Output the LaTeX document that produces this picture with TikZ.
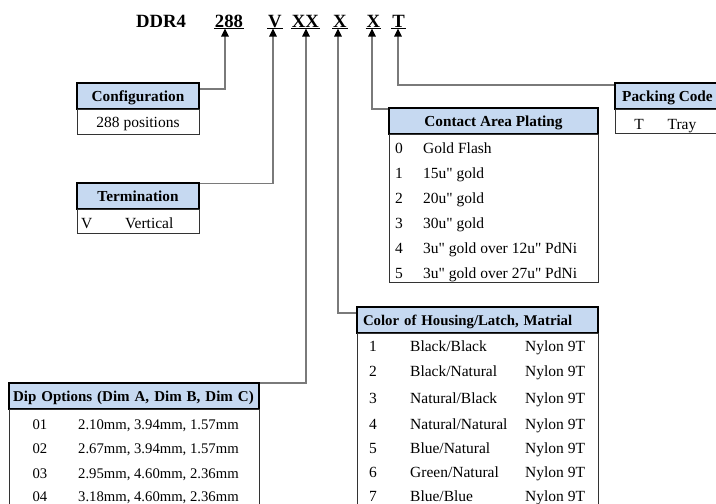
\documentclass[tikz,border=0pt]{standalone}
\usepackage{fontspec}
\setmainfont{Liberation Serif}[Ligatures=TeXOff]
\usetikzlibrary{arrows.meta}
\definecolor{hdrblue}{HTML}{C6D9F1}
\definecolor{conncol}{HTML}{7A7A7A}
\begin{document}
\begin{tikzpicture}[x=1pt,y=-1pt,
  hdr/.style={draw=black, line width=1.8pt, fill=hdrblue, outer sep=0pt, inner sep=0pt,
    minimum height=26pt, anchor=north west, text height=14pt, text depth=3pt,
    font=\fontsize{15.3}{18}\selectfont\bfseries},
  bodybox/.style={draw=black!80, line width=0.9pt},
  conn/.style={draw=conncol, line width=1.4pt},
  tipup/.style={-{Triangle[length=8pt,width=7.5pt,color=black,fill=black]}},
  lbl/.style={font=\fontsize{18.7}{20}\selectfont\bfseries, inner xsep=1pt, inner ysep=0pt,
    text height=13pt, text depth=1.5pt, anchor=base, outer sep=0pt},
  cell/.style={font=\fontsize{15.5}{18}\selectfont, inner sep=0pt, anchor=base west},
  cellc/.style={font=\fontsize{15.5}{18}\selectfont, inner sep=0pt, anchor=base},
  dcell/.style={font=\fontsize{14.7}{18}\selectfont, inner sep=0pt, anchor=base west},
  dcellc/.style={font=\fontsize{14.7}{18}\selectfont, inner sep=0pt, anchor=base},
  uline/.style={draw=black, line width=1.3pt}
]
\useasboundingbox (0,0) rectangle (716,504);
\clip (0,0) rectangle (716,504);
\fill[white] (0,0) rectangle (716,504);

% top code row
\node[lbl] (nDDR) at (161,27) {DDR4};
\node[lbl] (n288) at (229,27) {288};
\node[lbl] (nV) at (275,27) {V};
\node[lbl] (nXX) at (305.5,27) {XX};
\node[lbl] (nXa) at (340,27) {X};
\node[lbl] (nXb) at (373.5,27) {X};
\node[lbl] (nT) at (398.5,27) {T};
\foreach \n in {n288,nV,nXX,nXa,nXb,nT}{
  \draw[uline] (\n.south west) -- (\n.south east);
}

% header boxes (first pass: anchors for connectors)
\node[hdr, minimum width=122pt] (cfgh) at (77,83) {Configuration};
\node[hdr, minimum width=122pt] (termh) at (77,183) {Termination};
\node[hdr, minimum width=209pt] (conh) at (389,108) {Contact Area Plating};
\node[hdr, minimum width=105pt] (pach) at (615,83) {Packing Code};
\node[hdr, text width=229pt, inner xsep=6pt, align=left,
  font=\fontsize{14.8}{18}\selectfont\bfseries] (colh) at (357,307) {Color of Housing/Latch, Matrial};
\node[hdr, text width=242pt, inner xsep=4pt, align=left,
  font=\fontsize{15}{18}\selectfont\bfseries] (diph) at (9,383) {Dip Options (Dim A, Dim B, Dim C)};

% connectors
\draw[conn,tipup] ([yshift=-6pt]cfgh.north east) -| ([xshift=-4pt]n288.south);
\draw[conn,tipup] ([yshift=-0.5pt]termh.north east) -| ([xshift=-2pt]nV.south);
\draw[conn,tipup] (diph.north east) -| ([xshift=0.5pt]nXX.south);
\draw[conn,tipup] ([yshift=-6pt]colh.north west) -| ([xshift=-2pt]nXa.south);
\draw[conn,tipup] ([yshift=-1pt]conh.north west) -| ([xshift=-1.5pt]nXb.south);
\draw[conn,tipup] ([yshift=-2pt]pach.north west) -| ([xshift=-0.5pt]nT.south);

% redraw headers over connector ends
\node[hdr, minimum width=122pt] (cfgh2) at (77,83) {Configuration};
\node[hdr, minimum width=122pt] (termh2) at (77,183) {Termination};
\node[hdr, minimum width=209pt] (conh2) at (389,108) {Contact Area Plating};
\node[hdr, minimum width=105pt] (pach2) at (615,83) {Packing Code};
\node[hdr, text width=229pt, inner xsep=6pt, align=left,
  font=\fontsize{14.8}{18}\selectfont\bfseries] (colh2) at (357,307) {Color of Housing/Latch, Matrial};
\node[hdr, text width=242pt, inner xsep=4pt, align=left,
  font=\fontsize{15}{18}\selectfont\bfseries] (diph2) at (9,383) {Dip Options (Dim A, Dim B, Dim C)};

% body boxes
\draw[bodybox] (cfgh.south west) rectangle (199,134);
\draw[bodybox] (termh.south west) rectangle (199,233);
\draw[bodybox] (conh.south west) rectangle (598,282);
\draw[bodybox] (pach.south west) rectangle (720,133);
\draw[bodybox] (colh.south west) rectangle (598,530);
\draw[bodybox] (diph.south west) rectangle (259,530);

% Configuration body
\node[cellc] (cfg1) at (138,127) {288 positions};
% Termination body
\node[cell] (term1a) at (81,228) {V};
\node[cell] (term1b) at (125,228) {Vertical};
% Packing body
\node[cellc] (pac1a) at (639,129) {T};
\node[cellc] (pac1b) at (682,129) {Tray};

% Contact Area Plating body
\foreach \k/\t [count=\i from 0] in {0/Gold Flash,1/15u" gold,2/20u" gold,3/30u" gold,4/3u" gold over 12u" PdNi,5/3u" gold over 27u" PdNi}{
  \node[cell] (con\i a) at (395,153+25*\i) {\k};
  \node[cell] (con\i b) at (423,153+25*\i) {\t};
}

% Color body
\foreach \k/\t/\y in {1/Black\slash Black/351.5,2/Black\slash Natural/376,3/Natural\slash Black/403,4/Natural\slash Natural/429,5/Blue\slash Natural/453,6/Green\slash Natural/477,7/Blue\slash Blue/501}{
  \node[cellc] (col\k a) at (373,\y) {\k};
  \node[cell] (col\k b) at (410,\y) {\t};
  \node[cell] (col\k c) at (525,\y) {Nylon 9T};
}

% Dip body
\foreach \k/\t/\y in {01/{2.10mm, 3.94mm, 1.57mm}/429,02/{2.67mm, 3.94mm, 1.57mm}/453,03/{2.95mm, 4.60mm, 2.36mm}/478,04/{3.18mm, 4.60mm, 2.36mm}/501}{
  \node[dcellc] (dip\k a) at (40,\y) {\k};
  \node[dcell] (dip\k b) at (78,\y) {\t};
}
\end{tikzpicture}
\end{document}
